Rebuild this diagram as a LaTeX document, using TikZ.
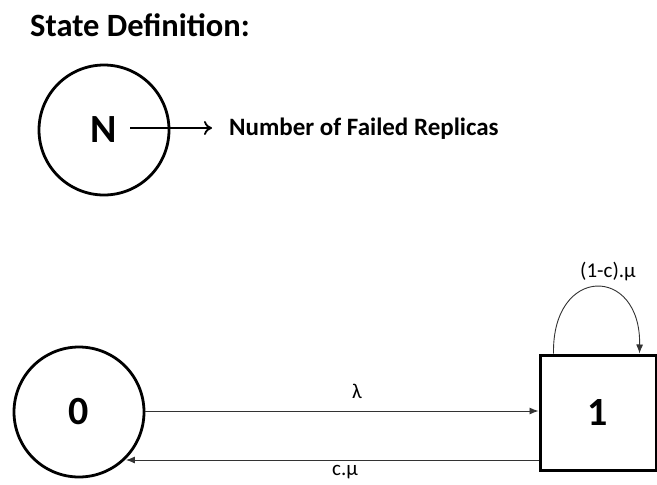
\documentclass[tikz,border=0pt]{standalone}
\usepackage{fontspec}
\setmainfont{Carlito}
\usetikzlibrary{arrows.meta}
\begin{document}
\begin{tikzpicture}[x=1pt,y=-1pt,
  statecirc/.style={circle,draw,line width=2.8pt,minimum size=130pt,inner sep=0pt,font=\fontsize{40}{44}\selectfont\bfseries},
  statebox/.style={rectangle,draw,line width=3pt,minimum width=116pt,minimum height=115pt,inner sep=0pt,font=\fontsize{40}{44}\selectfont\bfseries},
  trans/.style={line width=0.9pt,draw=black!80,-{Latex[length=9pt,width=7pt]}},
  lbl/.style={font=\fontsize{21}{24}\selectfont}]
\useasboundingbox (0,0) rectangle (657,485);
\node[anchor=west,inner sep=0pt,font=\fontsize{32.5}{36}\selectfont\bfseries] (title) at (30,25) {State Definition:};
\node[statecirc] (N) at (104,130) {N};
\node[anchor=west,inner sep=0pt,font=\fontsize{25}{28}\selectfont\bfseries] (desc) at (229,129) {Number of Failed Replicas};
\coordinate (nstart) at (130,128);
\coordinate (nend) at (212,128);
\draw[line width=1.8pt,-{To[length=8pt,width=14pt,line width=1.8pt]}] (nstart) -- (nend);
\node[statecirc] (zero) at (79,412) {0};
\node[statebox] (one) at (598,412.5) {1};
\draw[trans] (zero.east |- 0,411) -- (one.west |- 0,411);
\node[lbl] (lam) at (357,391) {λ};
\draw[trans] (one.west |- 0,460) -- (zero.south east |- 0,460);
\node[lbl] (cmu) at (345,472) {c.μ};
\coordinate (la) at ([xshift=15pt]one.north west);
\coordinate (lb) at ([xshift=-18pt]one.north east);
\draw[trans] (la) .. controls (552,265) and (641,265) .. (lb);
\node[lbl] (loopl) at (608,272) {(1-c).μ};
\end{tikzpicture}
\end{document}
